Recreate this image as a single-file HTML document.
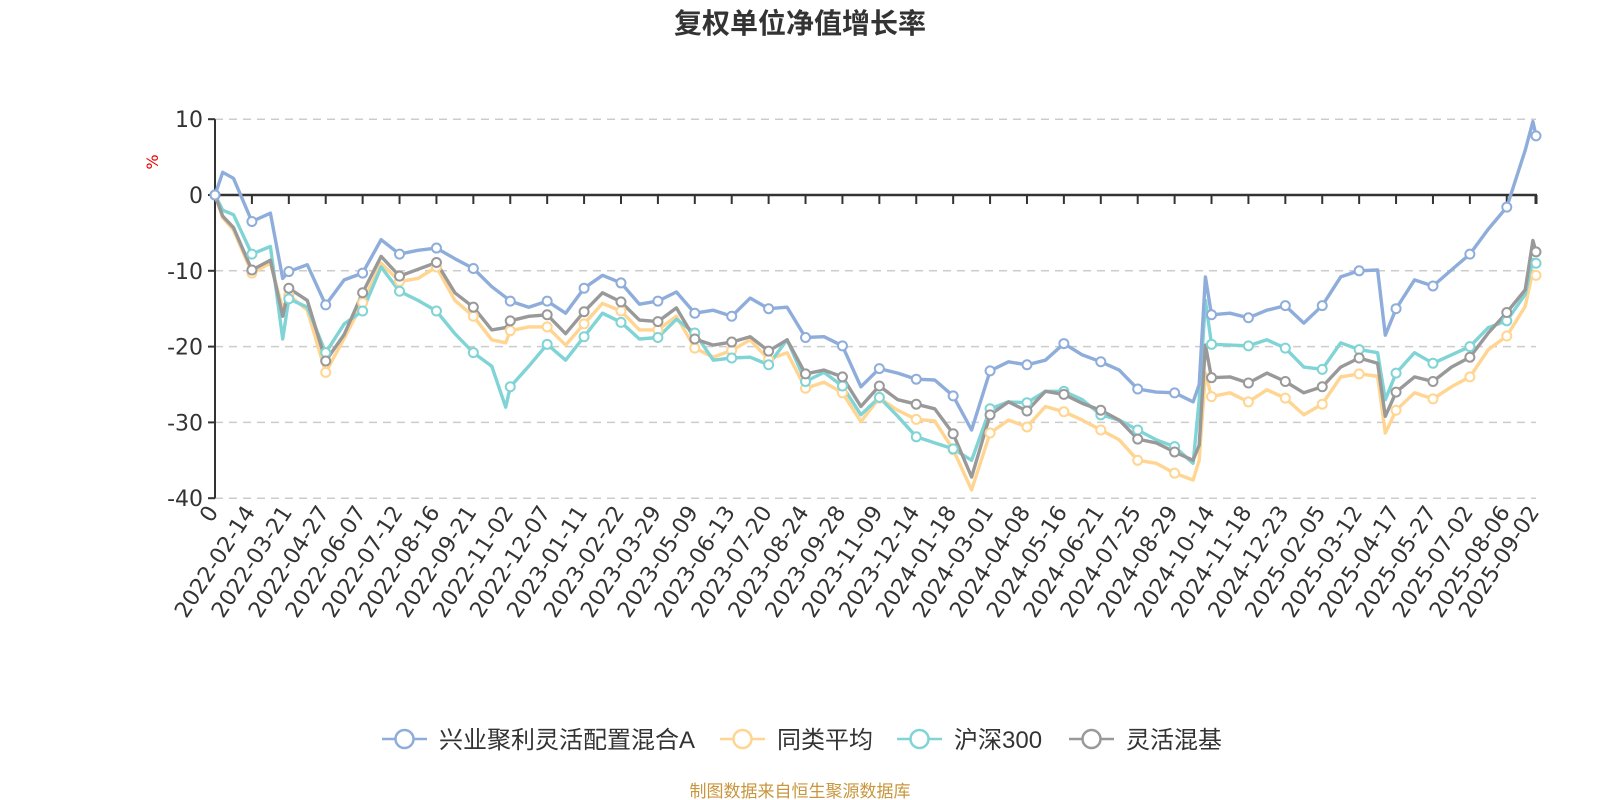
<!DOCTYPE html>
<html><head><meta charset="utf-8">
<style>
html,body{margin:0;padding:0;background:#fff;}
svg{display:block;font-family:"DejaVu Sans","Liberation Sans","Noto Sans CJK SC",sans-serif;}
</style></head>
<body>
<svg id="chart" width="1600" height="800" viewBox="0 0 1600 800" xmlns="http://www.w3.org/2000/svg">
<text x="800" y="33" text-anchor="middle" font-size="28" font-weight="bold" fill="#333" font-family="'Liberation Sans','Noto Sans CJK SC',sans-serif">复权单位净值增长率</text>
<text transform="translate(158,162) rotate(-90)" text-anchor="middle" font-size="16" fill="#e00">%</text>
<g id="grid"></g>
<g id="axes"></g>
<g id="series"></g>
<g id="legend"></g>
<text x="800" y="797" text-anchor="middle" font-size="17" fill="#c8963c" font-family="'Liberation Sans','Noto Sans CJK SC',sans-serif">制图数据来自恒生聚源数据库</text>
</svg>
<script>
const days = [0,5,12,24,36,44,48,60,72,84,96,108,120,132,144,156,168,180,189,192,204,216,228,240,252,264,276,288,300,312,324,336,348,360,372,384,396,408,420,432,444,456,468,480,492,504,516,528,540,552,564,576,588,600,612,624,636,640,644,648,660,672,684,696,708,720,732,744,756,761,768,780,792,804,816,828,840,852,857,859];
const fundValues = [0,3,2.2,-3.5,-2.4,-11,-10.1,-9.2,-14.5,-11.2,-10.3,-5.9,-7.8,-7.3,-7,-8.4,-9.7,-12.1,-13.5,-14,-14.8,-14,-15.6,-12.3,-10.6,-11.6,-14.4,-14,-12.8,-15.6,-15.2,-16,-13.6,-15,-14.8,-18.8,-18.7,-19.9,-25.3,-22.9,-23.5,-24.3,-24.4,-26.5,-31,-23.2,-22,-22.4,-21.8,-19.6,-21.1,-22,-23.1,-25.6,-26,-26.1,-27.3,-25,-10.8,-15.8,-15.6,-16.2,-15.2,-14.6,-16.9,-14.6,-10.8,-10,-9.9,-18.5,-15,-11.2,-12,-9.9,-7.8,-4.5,-1.6,5.9,9.7,7.8];
const peerValues = [0,-3,-4.6,-10.3,-9,-15,-13.2,-15.2,-23.4,-18.9,-14.2,-9,-11.4,-11,-9.5,-13.9,-16,-19.1,-19.5,-17.9,-17.4,-17.4,-19.8,-17,-14.3,-15.3,-17.8,-17.8,-16,-20.2,-21.4,-20.5,-19.1,-21.7,-20.8,-25.5,-24.7,-26.1,-29.9,-26.8,-28.4,-29.6,-29.8,-33.6,-38.9,-31.4,-29.7,-30.6,-27.9,-28.6,-29.7,-31,-32.3,-35,-35.4,-36.7,-37.6,-35,-23.5,-26.6,-26.1,-27.3,-25.7,-26.8,-29,-27.6,-24,-23.6,-23.9,-31.4,-28.4,-26.1,-26.9,-25.3,-24,-20.4,-18.6,-14.7,-10,-10.6];
const hs300Values = [0,-2,-2.6,-7.8,-6.8,-19,-13.7,-14.8,-20.8,-17,-15.3,-9.5,-12.7,-13.9,-15.3,-18.3,-20.8,-22.6,-28,-25.3,-22.6,-19.7,-21.8,-18.7,-15.6,-16.8,-19,-18.8,-16.4,-18.2,-21.8,-21.5,-21.4,-22.4,-19.1,-24.6,-23.4,-25.2,-29,-26.7,-29.2,-31.9,-32.7,-33.5,-35,-28.2,-27.3,-27.4,-25.9,-25.9,-27,-29,-29.7,-31,-32.3,-33.2,-35.4,-27,-13.9,-19.7,-19.8,-19.9,-19.1,-20.2,-22.7,-23,-19.5,-20.4,-20.8,-27,-23.5,-20.8,-22.2,-21.1,-20,-17.5,-16.6,-13.1,-8.5,-9];
const flexValues = [0,-2.8,-4.3,-9.9,-8.6,-16,-12.3,-13.9,-21.9,-18.4,-12.9,-8.1,-10.7,-9.8,-8.9,-12.9,-14.8,-17.8,-17.5,-16.6,-16,-15.8,-18.3,-15.4,-12.9,-14.1,-16.5,-16.7,-14.9,-19,-19.8,-19.4,-18.7,-20.6,-19.1,-23.6,-23.1,-24,-27.9,-25.2,-27,-27.6,-28.2,-31.5,-37.2,-29,-27.3,-28.5,-25.9,-26.3,-27.5,-28.4,-29.7,-32.2,-32.7,-33.9,-35,-33,-19.8,-24.1,-24,-24.8,-23.5,-24.6,-26.1,-25.3,-22.7,-21.5,-22.2,-29.2,-26,-24,-24.6,-22.7,-21.4,-18.2,-15.5,-12.5,-6,-7.5];
const seriesNames = ["兴业聚利灵活配置混合A","同类平均","沪深300","灵活混基"];
const yTicks = [10,0,-10,-20,-30,-40];
const xLabels = ["0","2022-02-14","2022-03-21","2022-04-27","2022-06-07","2022-07-12","2022-08-16","2022-09-21","2022-11-02","2022-12-07","2023-01-11","2023-02-22","2023-03-29","2023-05-09","2023-06-13","2023-07-20","2023-08-24","2023-09-28","2023-11-09","2023-12-14","2024-01-18","2024-03-01","2024-04-08","2024-05-16","2024-06-21","2024-07-25","2024-08-29","2024-10-14","2024-11-18","2024-12-23","2025-02-05","2025-03-12","2025-04-17","2025-05-27","2025-07-02","2025-08-06","2025-09-02"];
const labelDays = [0,24,48,72,96,120,144,168,192,216,240,264,288,312,336,360,384,408,432,456,480,504,528,552,576,600,624,648,672,696,720,744,768,792,816,840,859];

const NS="http://www.w3.org/2000/svg";
const X0=215, X1=1536, LASTDAY=859;
const Y0=195, PER=7.58;
function xScale(d){return X0+d*(X1-X0)/LASTDAY;}
function yScale(v){return Y0-v*PER;}
function mk(tag,attrs,parent){const e=document.createElementNS(NS,tag);for(const k in attrs)e.setAttribute(k,attrs[k]);parent.appendChild(e);return e;}

const grid=document.getElementById('grid'), axes=document.getElementById('axes'), ser=document.getElementById('series'), leg=document.getElementById('legend');
yTicks.forEach(v=>{
  if(v!==0){
    const g=mk('line',{x1:X0,x2:X1,y1:yScale(v),y2:yScale(v),stroke:'#ccc','stroke-width':1.5,'stroke-dasharray':'8,6'},grid);
    
    
  }
  const t=mk('line',{x1:X0-7,x2:X0,y1:yScale(v),y2:yScale(v),stroke:'#333','stroke-width':2},axes);
  
  
  const l=mk('text',{x:X0-12,y:yScale(v)+8,'text-anchor':'end','font-size':22,fill:'#333'},axes);
  l.textContent=v;
  
  
});
const ya=mk('line',{x1:X0,x2:X0,y1:yScale(10),y2:yScale(-40),stroke:'#333','stroke-width':2},axes);


const xa=mk('line',{x1:X0,x2:X1+1,y1:Y0,y2:Y0,stroke:'#333','stroke-width':2.5},axes);


labelDays.forEach((d,i)=>{
  const x=xScale(d);
  const t=mk('line',{x1:x,x2:x,y1:Y0,y2:Y0+9,stroke:'#333','stroke-width':i===labelDays.length-1?3:2},axes);
  
  
  const l=mk('text',{x:x+4,y:512,'text-anchor':'end','font-size':22,fill:'#333',transform:'rotate(-57 '+(x+4)+' 512)'},axes);
  l.textContent=xLabels[i];
  
  
});

const colors=['#8eaddb','#ffd591','#80d4d6','#999999'];
const allValues=[fundValues,peerValues,hs300Values,flexValues];
const drawOrder=[1,2,3,0];
drawOrder.forEach(s=>{
  const vals=allValues[s];
  let dstr='';
  days.forEach((d,i)=>{dstr+=(i?'L':'M')+xScale(d).toFixed(1)+','+yScale(vals[i]).toFixed(1);});
  const p=mk('path',{d:dstr,fill:'none',stroke:colors[s],'stroke-width':3.4,'stroke-linejoin':'round'},ser);
  
  
});
drawOrder.forEach(s=>{
  const vals=allValues[s];
  days.forEach((d,i)=>{
    if(d%24===0||d===LASTDAY){
      const c=mk('circle',{cx:xScale(d),cy:yScale(vals[i]),r:4.5,fill:'#fff',stroke:colors[s],'stroke-width':2},ser);
      
      
    }
  });
});

const legX=[382,720,897,1069];
seriesNames.forEach((n,s)=>{
  const g=mk('g',{},leg);
  
  
  mk('line',{x1:legX[s],x2:legX[s]+45,y1:739,y2:739,stroke:colors[s],'stroke-width':2.5},g);
  mk('circle',{cx:legX[s]+22.5,cy:739,r:9,fill:'#fff',stroke:colors[s],'stroke-width':2.5},g);
  const t=mk('text',{x:legX[s]+57,y:748,'font-size':24,fill:'#333','font-family':"'Liberation Sans','Noto Sans CJK SC',sans-serif"},g);
  t.textContent=n;
});
</script>
</body></html>
